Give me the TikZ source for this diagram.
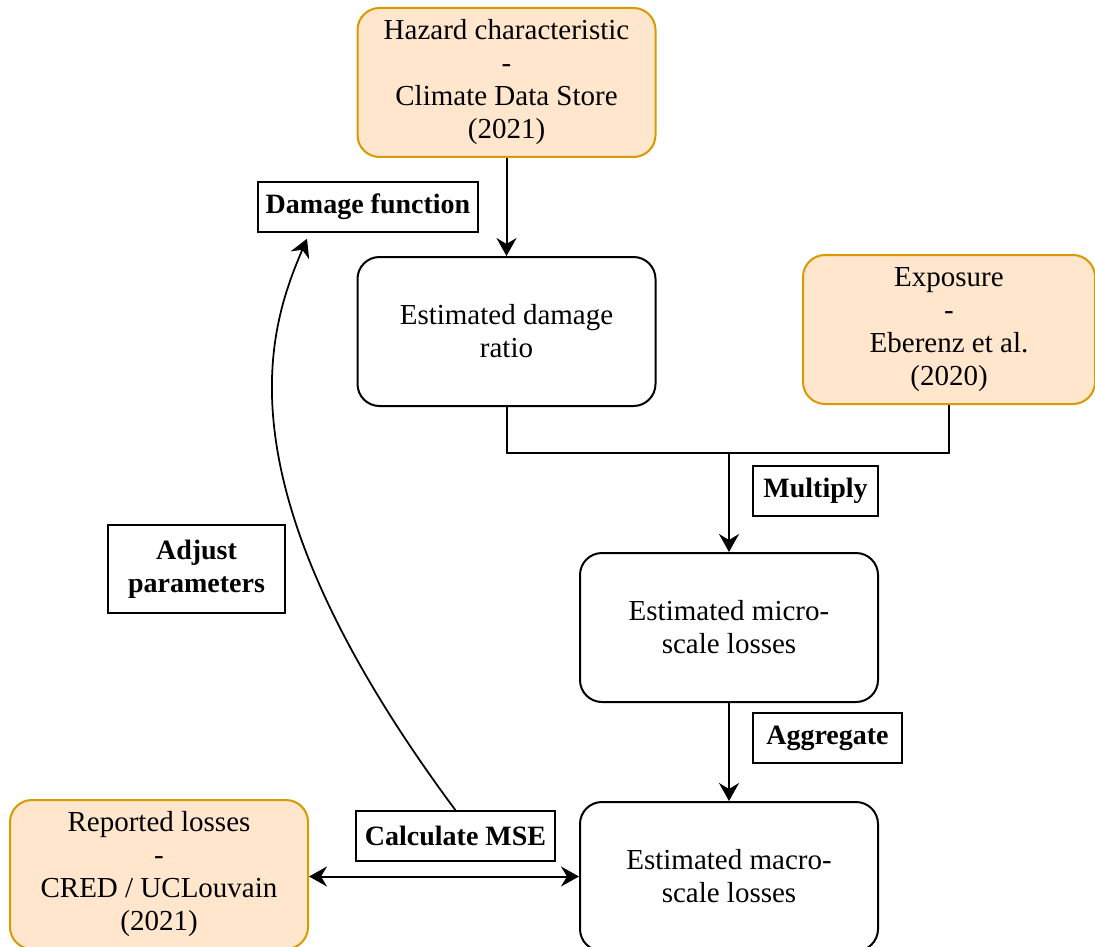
\documentclass[tikz,border=0pt]{standalone}
\usepackage{fontspec}
\setmainfont{Liberation Serif}
\usetikzlibrary{arrows.meta, positioning}
\definecolor{srcfill}{HTML}{FFE6CC}
\definecolor{srcline}{HTML}{D79B00}

\begin{document}
\begin{tikzpicture}[x=1pt, y=-1pt, line width=2pt, node distance=98pt,
    every node/.style={font=\fontsize{29}{33}\selectfont, align=center},
    box/.style={rectangle, draw, rounded corners=22pt, minimum width=298pt, minimum height=149pt},
    src/.style={box, fill=srcfill, draw=srcline},
    lbl/.style={rectangle, draw, fill=white, line width=1.5pt, minimum height=50pt, inner sep=2pt, font=\fontsize{28}{33}\selectfont\bfseries},
    arr/.style={-{Stealth[length=18pt, width=20pt, inset=6pt]}}]
    \useasboundingbox (0,0) rectangle (1095,947);
    \node[src] (haz) at (506.5,82.5) {Hazard characteristic\\-\\Climate Data Store\\(2021)};
    \node[box, below=of haz] (ratio) {Estimated damage\\ratio};
    \node[src, minimum width=292pt] (expo) at (949,329.5) {Exposure\\-\\Eberenz et al.\\(2020)};
    \node[box] (micro) at (729,627.5) {Estimated micro-\\scale losses};
    \node[box, below=of micro] (macro) {Estimated macro-\\scale losses};
    \node[src] (report) at (159,874.5) {Reported losses\\-\\CRED / UCLouvain\\(2021)};
    \node[lbl, minimum width=220pt] (dmg) at (368,207) {Damage function};
    \node[lbl, minimum width=125pt] (mult) at (815.5,491) {Multiply};
    \node[lbl, minimum width=149pt] (aggr) at (827.5,738) {Aggregate};
    \node[lbl, minimum width=199pt] (mse) at (455.5,836) {Calculate MSE};
    \node[lbl, minimum width=177pt, minimum height=88pt] (adj) at (196.5,569) {Adjust\\parameters};
    \coordinate (join) at (729,453);
    \draw (ratio.south) |- (join) -| (expo.south);
    \draw[arr] (haz) -- (ratio);
    \draw[arr] (join) -- (micro);
    \draw[arr] (micro) -- (macro);
    \draw[{Stealth[length=18pt, width=20pt, inset=6pt]}-{Stealth[length=18pt, width=20pt, inset=6pt]}] (report.east |- macro.west) -- (macro.west);
    \draw[arr, line width=1.75pt] (mse.north) .. controls (214,485) and (268,330) .. ([xshift=-61pt, yshift=-6pt]dmg.south);
\end{tikzpicture}
\end{document}
